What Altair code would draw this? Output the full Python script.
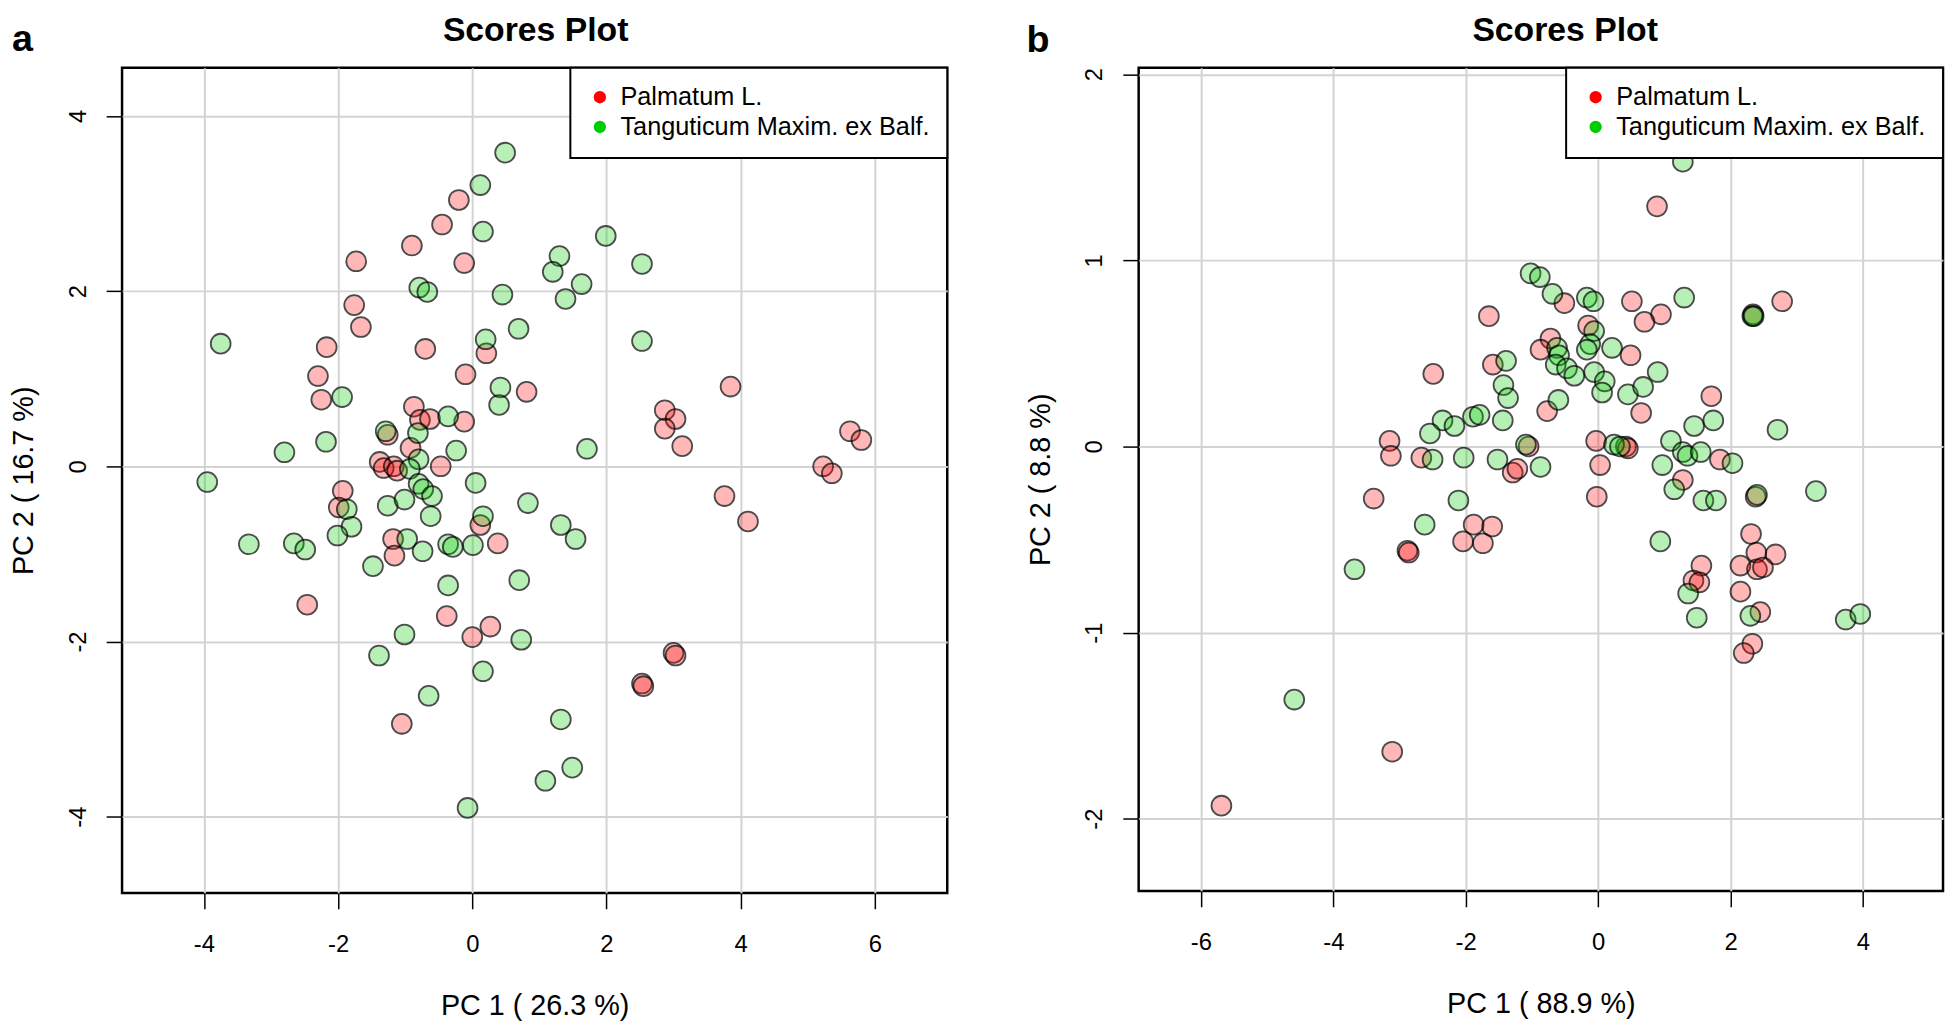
import altair as alt
import pandas as pd

GROUPS = ["Palmatum L.", "Tanguticum Maxim. ex Balf."]
COLORS = ["#FF0000", "#00CD00"]
FONT = "Liberation Sans"
TITLE = "Scores Plot"

# ---- panel a ----
a_palm_x = [-0.20, -0.45, -0.90, -1.73, -0.12, -1.76, -1.66, -2.17, -0.70, 0.21, -0.10, -2.30, 0.81, -2.25, -0.87,
            -0.78, -0.63, -0.12, -1.26, -0.92, -1.38, -1.32, -1.17, -1.12, -0.47, -1.93, -1.99, -2.46, -1.18, -1.16,
            0.38, 0.12, -0.38, 0.27, 0.00, -1.05, 3.85, 2.87, 3.03, 2.87, 3.13, 5.63, 5.80, 5.23, 5.36,
            3.76, 4.11, 3.00, 3.03, 2.53, 2.55]
a_palm_y = [3.04, 2.76, 2.52, 2.34, 2.32, 1.84, 1.59, 1.36, 1.34, 1.29, 1.05, 1.03, 0.85, 0.76, 0.68,
            0.53, 0.54, 0.51, 0.36, 0.21, 0.05, -0.02, 0.00, -0.05, 0.00, -0.28, -0.47, -1.58, -0.83, -1.02,
            -0.88, -0.67, -1.71, -1.83, -1.95, -2.94, 0.91, 0.64, 0.54, 0.43, 0.23, 0.40, 0.30, 0.00, -0.08,
            -0.34, -0.63, -2.13, -2.16, -2.48, -2.51]
a_tang_x = [0.49, 0.12, 0.16, 1.30, 1.20, 1.63, 1.39, -0.79, -0.67, 0.45, 0.69, -3.75, 0.20, 0.42, 0.40,
            -1.94, 1.99, -0.36, -0.81, -1.29, -0.24, -2.18, -2.80, 1.71, -0.80, -0.93, -3.95, 0.05, 2.53, 2.53,
            -1.87, -1.80, -2.01, -3.33, -2.66, -2.49, -1.26, -1.01, -0.97, -1.48, -0.74, -0.80, -0.73, -0.60, -0.62,
            -0.36, -0.29, 0.01, 0.16, 0.83, 1.32, 1.54, -0.36, 0.70, 0.73, -1.01, -1.39, 0.16, -0.65, 1.32,
            1.49, 1.09, -0.07]
a_tang_y = [3.58, 3.21, 2.68, 2.40, 2.22, 2.08, 1.91, 2.04, 1.99, 1.96, 1.57, 1.40, 1.45, 0.90, 0.70,
            0.79, 2.63, 0.57, 0.38, 0.40, 0.18, 0.28, 0.16, 0.20, 0.08, -0.03, -0.18, -0.19, 2.31, 1.43,
            -0.49, -0.69, -0.79, -0.89, -0.88, -0.95, -0.45, -0.38, -0.83, -1.14, -0.97, -0.20, -0.26, -0.34, -0.57,
            -0.89, -0.92, -0.90, -0.57, -0.42, -0.67, -0.83, -1.36, -1.30, -1.98, -1.92, -2.16, -2.34, -2.62, -2.89,
            -3.44, -3.59, -3.90]
a_x_ticks = [-4, -2, 0, 2, 4, 6]
a_y_ticks = [-4, -2, 0, 2, 4]
a_x_dom = [-5.22, 7.08]
a_y_dom = [-4.87, 4.55]

# ---- panel b ----
b_palm_x = [-1.65, -2.49, -1.59, -3.15, -3.13, -2.67, -1.29, -1.22, -3.39, -1.88, -1.60, -2.04, -1.74, -2.88, -2.86,
            -3.11, -5.69, 0.89, -0.51, 0.51, 0.95, 0.70, 2.34, 2.78, -0.15, -0.72, -0.87, 0.49, 0.65, 1.71,
            -0.77, -0.03, 0.03, 0.42, 0.45, -1.05, 1.84, -0.02, 1.28, 2.38, 2.31, 2.39, 2.68, 2.15, 2.40,
            2.49, 1.56, 1.44, 1.53, 2.15, 2.45, 2.33, 2.20]
b_palm_y = [0.70, 0.39, 0.44, 0.03, -0.05, -0.06, -0.14, -0.12, -0.28, -0.42, -0.43, -0.51, -0.52, -0.56, -0.57,
            -1.64, -1.93, 1.29, 0.77, 0.78, 0.71, 0.67, 0.71, 0.78, 0.65, 0.58, 0.52, 0.49, 0.18, 0.27,
            0.19, 0.03, -0.10, 0.00, -0.01, 0.00, -0.07, -0.27, -0.18, -0.27, -0.47, -0.57, -0.58, -0.64, -0.66,
            -0.65, -0.64, -0.72, -0.73, -0.78, -0.89, -1.06, -1.11]
b_tang_x = [-1.39, -1.43, -1.36, -1.44, -1.89, -1.79, -2.35, -2.17, -2.54, -2.50, -2.03, -1.52, -2.11, -2.62, -3.68,
            -4.59, 1.28, -1.02, -0.88, -0.69, -0.17, -0.07, 1.30, 2.33, 2.35, -0.06, -0.62, -0.59, -0.64, -0.47,
            -0.36, -0.12, -0.17, 0.21, -0.06, 0.10, 0.06, 0.45, 0.68, 0.90, 1.74, 1.45, 2.71, -0.60, 0.24,
            0.33, -1.09, -0.87, 0.97, 1.10, 1.28, 1.35, 1.55, 2.03, 1.15, 1.59, 1.78, 2.40, 3.29, 0.94,
            1.36, 1.49, 2.30, 3.74, 3.96]
b_tang_y = [0.46, 0.33, 0.26, 0.14, 0.16, 0.17, 0.14, 0.11, 0.07, -0.07, -0.06, -0.07, -0.29, -0.42, -0.66,
            -1.36, 1.53, 0.93, 0.91, 0.82, 0.80, 0.78, 0.80, 0.70, 0.70, 0.62, 0.53, 0.49, 0.44, 0.42,
            0.38, 0.55, 0.52, 0.53, 0.40, 0.35, 0.29, 0.28, 0.32, 0.40, 0.14, 0.11, 0.09, 0.25, 0.01,
            0.00, 0.01, -0.11, -0.10, 0.03, -0.03, -0.05, -0.03, -0.09, -0.23, -0.29, -0.29, -0.26, -0.24, -0.51,
            -0.79, -0.92, -0.91, -0.93, -0.90]
b_x_ticks = [-6, -4, -2, 0, 2, 4]
b_y_ticks = [-2, -1, 0, 1, 2]
b_x_dom = [-6.94, 5.21]
b_y_dom = [-2.388, 2.035]


def frame(px, py, tx, ty):
    return pd.DataFrame({
        "x": px + tx,
        "y": py + ty,
        "g": [GROUPS[0]] * len(px) + [GROUPS[1]] * len(tx),
    })


def text_layer(txt, x, y, size):
    return alt.Chart(alt.Data(values=[{"t": txt}])).mark_text(
        align="left" if len(txt) == 1 else "center", baseline="alphabetic",
        font=FONT, fontSize=size, fontWeight="bold", color="black"
    ).encode(text="t:N", x=alt.value(x), y=alt.value(y))


def panel(df, xdom, ydom, xticks, yticks, xtitle, ytitle, w, h, letter, lx, ly, tx, ty):
    pts = alt.Chart(df).mark_circle().encode(
        x=alt.X("x:Q", scale=alt.Scale(domain=xdom, nice=False, zero=False),
                axis=alt.Axis(values=xticks, title=xtitle, labelExpr="datum.value + ''")),
        y=alt.Y("y:Q", scale=alt.Scale(domain=ydom, nice=False, zero=False),
                axis=alt.Axis(values=yticks, title=ytitle, labelExpr="datum.value + ''", labelAngle=270,
                              labelAlign="center", labelBaseline="alphabetic")),
        fill=alt.Fill("g:N", scale=alt.Scale(domain=GROUPS, range=COLORS),
                      legend=alt.Legend(title=None, orient="top-right", offset=0)),
        fillOpacity=alt.value(0.4),
        stroke=alt.value("black"),
        strokeWidth=alt.value(1.8),
        size=alt.value(400),
    )
    return alt.layer(pts, text_layer(TITLE, tx, ty, 34), text_layer(letter, lx, ly, 38)).properties(
        width=w, height=h
    )


pa = panel(frame(a_palm_x, a_palm_y, a_tang_x, a_tang_y), a_x_dom, a_y_dom, a_x_ticks, a_y_ticks,
           "PC 1 ( 26.3 %)", "PC 2 ( 16.7 %)", 832, 832, "a", -111, -17, 417, -27)
pb = panel(frame(b_palm_x, b_palm_y, b_tang_x, b_tang_y), b_x_dom, b_y_dom, b_x_ticks, b_y_ticks,
           "PC 1 ( 88.9 %)", "PC 2 ( 8.8 %)", 811, 830, "b", -113, -16, 430, -27)

chart = alt.hconcat(pa, pb, spacing=75).resolve_scale(
    fill="independent"
).resolve_legend(
    fill="independent"
).properties(
    padding={"left": 0, "top": 0, "right": 0, "bottom": 0}
).configure_view(
    stroke="black", strokeWidth=2.5
).configure_axis(
    grid=True, gridColor="#D3D3D3", gridWidth=2, domain=False,
    tickColor="black", tickWidth=1.5, tickSize=16,
    labelFont=FONT, labelFontSize=24, labelColor="black",
    titleFont=FONT, titleFontSize=29, titleFontWeight="normal", titleColor="black",
).configure_axisX(
    labelPadding=24, titlePadding=36
).configure_axisY(
    labelPadding=21, titlePadding=28
).configure_legend(
    fillColor="white", strokeColor="black", strokeWidth=2, padding=17,
    labelFont=FONT, labelFontSize=25.5, labelColor="black", labelOffset=8, labelLimit=500,
    symbolType="circle", symbolSize=154, symbolStrokeWidth=0, symbolOpacity=1,
    rowPadding=3,
)

chart.save("out.html", embed_options={"renderer": "svg", "actions": False})
